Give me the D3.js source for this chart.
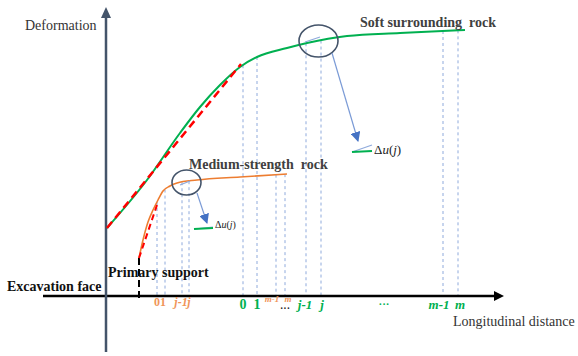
<!DOCTYPE html>
<html>
<head>
<meta charset="utf-8">
<script src="https://cdn.jsdelivr.net/npm/d3@7"></script>
<style>
  body { margin: 0; background: #fff; }
  svg text { white-space: pre; }
</style>
</head>
<body>
<script>
// curves: [distance, deformation]
const softRock = [[0.1, 6.8], [4.1, 11.6], [7.4, 16.3], [9.4, 18.9], [11.4, 21.1], [13.4, 22.9],
  [15.1, 23.9], [18.1, 24.8], [20.1, 25.3], [24.1, 26.0], [29.4, 26.3], [35.9, 26.6]];
const mediumRock = [[3.3, 3.8], [3.7, 5.6], [4.2, 7.4], [4.7, 8.6], [5.2, 9.6], [5.7, 10.5],
  [6.4, 11.0], [7.1, 11.3], [9.1, 11.6], [13.4, 11.9], [18.1, 12.2]];
const softTangent = [[0.1, 6.8], [13.5, 23.2]];
const mediumTangent = [[3.3, 3.8], [5.1, 9.1]];

// monitoring stations
const stationLabels = ["0", "1", "j-1", "j", "m-1", "m"];
const softStations = [13.7, 15.1, 20.0, 21.5, 33.7, 35.2];
const mediumStations = [5.1, 5.9, 7.6, 8.3, 17.0, 17.9];
const primarySupport = 3.3;

const WIDTH = 578;
const HEIGHT = 356;
const FONT = "'Liberation Serif', 'Times New Roman', 'DejaVu Serif', serif";
const GREEN = "#00b050";
const ORANGE = "#ed7d31";
const ORANGE_TXT = "#f0955a";
const BLUE = "#4472c4";
const GRID = "#8faadc";
const RING = "#44546a";

const x = d3.scaleLinear().domain([0, 40]).range([106, 506]);
const y = d3.scaleLinear().domain([0, 29]).range([296, 6]);

const svg = d3.select("body").append("svg")
  .attr("width", WIDTH)
  .attr("height", HEIGHT)
  .attr("font-family", FONT);

const defs = svg.append("defs");
defs.append("marker").attr("id", "blueHead")
  .attr("viewBox", "0 0 10 10").attr("refX", 9).attr("refY", 5)
  .attr("markerWidth", 10).attr("markerHeight", 10).attr("markerUnits", "userSpaceOnUse")
  .attr("orient", "auto")
  .append("path").attr("d", "M0,0 L10,5 L0,10 Z").attr("fill", BLUE);

const line = d3.line().x(d => x(d[0])).y(d => y(d[1]));
const smooth = d3.line().x(d => x(d[0])).y(d => y(d[1])).curve(d3.curveMonotoneX);

// height of a curve at a station
function curveAt(pts, v) {
  const s = d3.scaleLinear().domain(pts.map(d => d[0])).range(pts.map(d => d[1]));
  return s(v);
}

// vertical dashed lines
svg.selectAll(".gsoft").data(softStations).enter().append("line")
  .attr("x1", d => x(d)).attr("x2", d => x(d))
  .attr("y1", d => y(curveAt(softRock, d))).attr("y2", y(0))
  .attr("stroke", GRID).attr("stroke-width", 1).attr("stroke-dasharray", "3,3");
svg.selectAll(".gmed").data(mediumStations).enter().append("line")
  .attr("x1", d => x(d)).attr("x2", d => x(d))
  .attr("y1", d => y(curveAt(mediumRock, d))).attr("y2", y(0))
  .attr("stroke", GRID).attr("stroke-width", 1).attr("stroke-dasharray", "3,3");

// axes
svg.append("line")
  .attr("x1", 43).attr("x2", x(39.2)).attr("y1", y(0)).attr("y2", y(0))
  .attr("stroke", "#000").attr("stroke-width", 2.5);
svg.append("path")
  .attr("d", `M${x(39.8)},${y(0)} L${x(38.8)},${y(0) - 5} L${x(38.8)},${y(0) + 5} Z`)
  .attr("fill", "#000");
svg.append("line")
  .attr("x1", x(0)).attr("x2", x(0)).attr("y1", 352).attr("y2", 16)
  .attr("stroke", RING).attr("stroke-width", 2.5);
svg.append("path")
  .attr("d", `M${x(0)},7 L${x(0) - 5},18 L${x(0) + 5},18 Z`)
  .attr("fill", RING);

// primary support marker
svg.append("line")
  .attr("x1", x(primarySupport)).attr("x2", x(primarySupport))
  .attr("y1", y(3.8)).attr("y2", y(0) + 5)
  .attr("stroke", "#000").attr("stroke-width", 2).attr("stroke-dasharray", "7,4");

// curves
svg.append("path").attr("d", smooth(softRock))
  .attr("fill", "none").attr("stroke", GREEN).attr("stroke-width", 2);
svg.append("path").attr("d", smooth(mediumRock))
  .attr("fill", "none").attr("stroke", ORANGE).attr("stroke-width", 1.6);
svg.append("path").attr("d", line(softTangent))
  .attr("fill", "none").attr("stroke", "#ff0000").attr("stroke-width", 2.5).attr("stroke-dasharray", "8,5");
svg.append("path").attr("d", line(mediumTangent))
  .attr("fill", "none").attr("stroke", "#ff0000").attr("stroke-width", 2).attr("stroke-dasharray", "6,4");

// circled zones, tangent bits and call-out arrows
const zones = [
  { c: [21.25, 25.5], rx: 19.5, ry: 16, seg: [[19.9, 25.4], [21.4, 25.9]],
    from: [22.6, 24.3], to: [25.2, 15.5], glyph: [24.6, 14.4], size: 13 },
  { c: [8.05, 11.35], rx: 14.5, ry: 12.5, seg: [[7.4, 11.1], [8.4, 11.5]],
    from: [9.1, 10.3], to: [10.1, 7.3], glyph: [8.8, 6.7], size: 10 }
];
zones.forEach(z => {
  svg.append("path").attr("d", line(z.seg))
    .attr("stroke", GRID).attr("stroke-width", 1.2).attr("fill", "none");
  svg.append("ellipse")
    .attr("cx", x(z.c[0])).attr("cy", y(z.c[1])).attr("rx", z.rx).attr("ry", z.ry)
    .attr("fill", "none").attr("stroke", RING).attr("stroke-width", 1.6);
  svg.append("line")
    .attr("x1", x(z.from[0])).attr("y1", y(z.from[1]))
    .attr("x2", x(z.to[0])).attr("y2", y(z.to[1]))
    .attr("stroke", "#7b9bd6").attr("stroke-width", 1.2).attr("marker-end", "url(#blueHead)");
  const gx = x(z.glyph[0]), gy = y(z.glyph[1]);
  const w = z.size === 13 ? 20 : 19;
  svg.append("line").attr("x1", gx).attr("y1", gy).attr("x2", gx + w).attr("y2", gy - (z.size === 13 ? 7 : 2))
    .attr("stroke", GRID).attr("stroke-width", 1.2);
  svg.append("line").attr("x1", gx).attr("y1", gy).attr("x2", gx + w).attr("y2", gy - 1)
    .attr("stroke", GREEN).attr("stroke-width", 2);
  const t = svg.append("text").attr("x", gx + w + 2).attr("y", gy + (z.size === 13 ? 2 : -1))
    .attr("font-size", z.size).attr("fill", "#222");
  t.append("tspan").text("Δ");
  t.append("tspan").attr("font-style", "italic").text("u");
  t.append("tspan").text("(");
  t.append("tspan").attr("font-style", "italic").text("j");
  t.append("tspan").text(")");
});

// station labels
const softDx = [0, 0, -1, 1, -4, 2];
svg.selectAll(".slab").data(stationLabels).enter().append("text")
  .attr("x", (d, i) => x(softStations[i]) + softDx[i]).attr("y", 309)
  .attr("text-anchor", "middle").attr("font-weight", "bold")
  .attr("font-size", (d, i) => i < 2 ? 14 : 13)
  .attr("font-style", (d, i) => i < 2 ? "normal" : "italic")
  .attr("fill", GREEN).text(d => d);
const medDx = [0, -2, -1, 0, -4, 3];
svg.selectAll(".mlab").data(stationLabels).enter().append("text")
  .attr("x", (d, i) => x(mediumStations[i]) + medDx[i])
  .attr("y", (d, i) => i < 4 ? 306 : 302)
  .attr("text-anchor", "middle").attr("font-weight", "bold")
  .attr("font-size", (d, i) => i < 4 ? 12 : 9)
  .attr("font-style", (d, i) => i < 2 ? "normal" : "italic")
  .attr("fill", ORANGE_TXT).text(d => d);
svg.append("text").attr("x", x(17.9)).attr("y", 312).attr("text-anchor", "middle")
  .attr("font-size", 10).attr("font-weight", "bold").attr("fill", "#222").text("···");
svg.append("text").attr("x", x(27.8)).attr("y", 308).attr("text-anchor", "middle")
  .attr("font-size", 11).attr("font-weight", "bold").attr("fill", GREEN).text("···");

// titles
svg.append("text").attr("x", 25).attr("y", 30).attr("font-size", 14).attr("fill", "#333").text("Deformation");
svg.append("text").attr("x", 453).attr("y", 326).attr("font-size", 14).attr("fill", "#333").text("Longitudinal distance");
svg.append("text").attr("x", 7).attr("y", 291).attr("font-size", 14).attr("font-weight", "bold").attr("fill", "#111").text("Excavation face");
svg.append("text").attr("x", 108).attr("y", 277).attr("font-size", 14).attr("font-weight", "bold").attr("fill", "#111").text("Primary support");
svg.append("text").attr("x", 360).attr("y", 27).attr("font-size", 14).attr("font-weight", "bold").attr("fill", "#404040").text("Soft surrounding  rock");
svg.append("text").attr("x", 189).attr("y", 169).attr("font-size", 14).attr("font-weight", "bold").attr("fill", "#404040").text("Medium-strength  rock");
</script>
</body>
</html>
